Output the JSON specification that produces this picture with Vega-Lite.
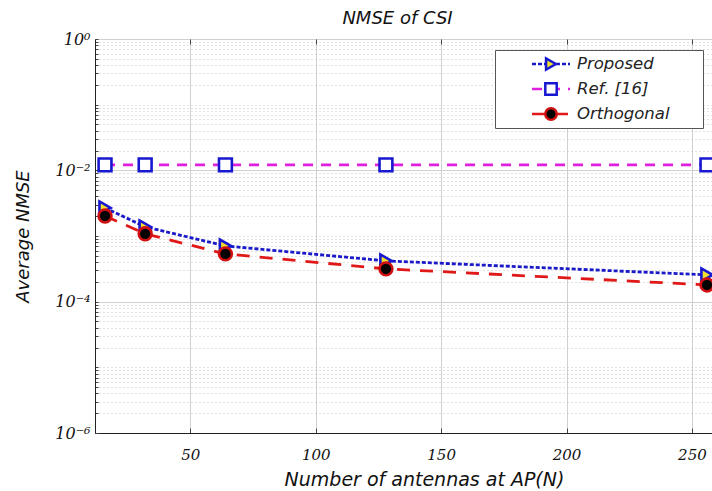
{
  "$schema": "https://vega.github.io/schema/vega-lite/v6.json",
  "width": 617,
  "height": 394,
  "autosize": {"type": "none"},
  "padding": {"left": 95, "top": 39, "right": 0, "bottom": 58},
  "background": "white",
  "title": {"text": "NMSE of CSI", "font": "DejaVu Sans", "fontStyle": "italic", "fontWeight": "normal", "fontSize": 18, "color": "#111", "offset": 3, "dx": -6},
  "config": {
    "view": {"stroke": "#444", "strokeWidth": 1},
    "axis": {
      "labelFont": "DejaVu Serif", "labelFontStyle": "italic", "labelFontSize": 15, "labelColor": "#111",
      "titleFont": "DejaVu Sans", "titleFontStyle": "italic", "titleFontWeight": "normal", "titleFontSize": 18, "titleColor": "#111",
      "domainColor": "#222", "tickColor": "#444"
    }
  },
  "data": {"values": [
    {"N": 16, "value": 0.00268, "series": "Proposed"},
    {"N": 32, "value": 0.00138, "series": "Proposed"},
    {"N": 64, "value": 0.000706, "series": "Proposed"},
    {"N": 128, "value": 0.000418, "series": "Proposed"},
    {"N": 256, "value": 0.000256, "series": "Proposed"},
    {"N": 16, "value": 0.0121, "series": "Ref. [16]"},
    {"N": 32, "value": 0.0121, "series": "Ref. [16]"},
    {"N": 64, "value": 0.0121, "series": "Ref. [16]"},
    {"N": 128, "value": 0.0121, "series": "Ref. [16]"},
    {"N": 256, "value": 0.0121, "series": "Ref. [16]"},
    {"N": 16, "value": 0.00202, "series": "Orthogonal"},
    {"N": 32, "value": 0.00108, "series": "Orthogonal"},
    {"N": 64, "value": 0.000534, "series": "Orthogonal"},
    {"N": 128, "value": 0.000316, "series": "Orthogonal"},
    {"N": 256, "value": 0.00018, "series": "Orthogonal"}
  ]},
  "layer": [
    {
      "mark": {"type": "line", "strokeWidth": 2.8},
      "encoding": {
        "x": {"field": "N", "type": "quantitative",
          "scale": {"domain": [12, 258], "nice": false, "zero": false},
          "axis": {"orient": "bottom", "values": [50, 100, 150, 200, 250], "title": "Number of antennas at AP(N)",
            "titleFontSize": 19, "titleX": 329,
            "grid": true, "gridColor": "#d0d0d0", "gridWidth": 1, "tickSize": -5, "labelPadding": 19, "titlePadding": 8}},
        "y": {"field": "value", "type": "quantitative",
          "scale": {"type": "log", "domain": [0.000001, 1], "nice": false},
          "axis": {"orient": "left", "title": "Average NMSE",
            "values": [1e-6, 2e-6, 3e-6, 4e-6, 5e-6, 6e-6, 7e-6, 8e-6, 9e-6,
                       1e-5, 2e-5, 3e-5, 4e-5, 5e-5, 6e-5, 7e-5, 8e-5, 9e-5,
                       1e-4, 2e-4, 3e-4, 4e-4, 5e-4, 6e-4, 7e-4, 8e-4, 9e-4,
                       1e-3, 2e-3, 3e-3, 4e-3, 5e-3, 6e-3, 7e-3, 8e-3, 9e-3,
                       1e-2, 2e-2, 3e-2, 4e-2, 5e-2, 6e-2, 7e-2, 8e-2, 9e-2,
                       1e-1, 2e-1, 3e-1, 4e-1, 5e-1, 6e-1, 7e-1, 8e-1, 9e-1, 1],
            "labelExpr": "datum.value === 1 ? '10⁰' : datum.value === 0.01 ? '10⁻²' : datum.value === 0.0001 ? '10⁻⁴' : datum.value === 0.000001 ? '10⁻⁶' : ''",
            "labelFontSize": 16,
            "grid": true, "gridColor": "#c4c4c4", "gridDash": [1, 3], "gridWidth": 1,
            "tickSize": -3, "labelPadding": 8, "titlePadding": 22, "labelOverlap": false}},
        "color": {"field": "series", "type": "nominal",
          "scale": {"domain": ["Proposed", "Ref. [16]", "Orthogonal"], "range": ["#1a1ac8", "#e01ee0", "#e01818"]},
          "legend": {"orient": "none", "legendX": 400, "legendY": 11, "title": "MM", "titleOrient": "right", "titleOpacity": 0,
            "titleFontSize": 10, "titlePadding": 15, "symbolType": "stroke", "symbolSize": 1444,
            "symbolStrokeWidth": 2.5, "symbolOffset": 34, "labelOffset": 5.5, "clipHeight": 25, "padding": 1.5, "rowPadding": 0,
            "fillColor": "white", "strokeColor": "#555", "labelFont": "DejaVu Sans", "labelFontStyle": "italic", "labelFontSize": 16.5,
            "labelColor": "#222"}},
        "strokeDash": {"field": "series", "type": "nominal",
          "scale": {"domain": ["Proposed", "Ref. [16]", "Orthogonal"], "range": [[4, 2], [10, 8], [13, 10]]},
          "legend": {"orient": "none", "legendX": 400, "legendY": 11, "title": "MM", "titleOrient": "right", "titleOpacity": 0,
            "titleFontSize": 10, "titlePadding": 15, "symbolType": "stroke", "symbolSize": 1444,
            "symbolStrokeWidth": 2.5, "symbolOffset": 34, "labelOffset": 5.5, "clipHeight": 25, "padding": 1.5, "rowPadding": 0,
            "fillColor": "white", "strokeColor": "#555", "labelFont": "DejaVu Sans", "labelFontStyle": "italic", "labelFontSize": 16.5,
            "labelColor": "#222"}}
      }
    },
    {
      "mark": {"type": "point", "filled": true, "size": 165, "strokeWidth": 2.6, "opacity": 1},
      "encoding": {
        "x": {"field": "N", "type": "quantitative",
          "axis": {"orient": "top", "values": [50, 100, 150, 200, 250], "labels": false, "tickSize": -5, "grid": false, "domain": false, "title": null}},
        "y": {"field": "value", "type": "quantitative",
          "axis": {"orient": "right", "values": [0.000001, 0.0001, 0.01, 1], "labels": false, "ticks": false, "domain": false,
            "grid": true, "gridColor": "#d0d0d0", "gridWidth": 1, "title": null}},
        "shape": {"field": "series", "type": "nominal",
          "scale": {"domain": ["Proposed", "Ref. [16]", "Orthogonal", "_"], "range": ["triangle-right", "square", "circle", "circle"]},
          "legend": {"orient": "none", "legendX": 447.5, "legendY": 11, "title": null, "values": ["Proposed", "Ref. [16]", "Orthogonal"],
            "symbolSize": 130, "symbolStrokeWidth": 2.5, "clipHeight": 25, "padding": 1.5, "rowPadding": 0, "labelExpr": "''", "labelOffset": 0}},
        "fill": {"field": "series", "type": "nominal",
          "scale": {"domain": ["Proposed", "Ref. [16]", "Orthogonal", "_"], "range": ["#f0e030", "#ffffff", "#000000", "#000000"]},
          "legend": {"orient": "none", "legendX": 447.5, "legendY": 11, "title": null, "values": ["Proposed", "Ref. [16]", "Orthogonal"],
            "symbolSize": 130, "symbolStrokeWidth": 2.5, "clipHeight": 25, "padding": 1.5, "rowPadding": 0, "labelExpr": "''", "labelOffset": 0}},
        "stroke": {"field": "series", "type": "nominal",
          "scale": {"domain": ["Proposed", "Ref. [16]", "Orthogonal", "_"], "range": ["#1818d0", "#1818d0", "#d01010", "#d01010"]},
          "legend": {"orient": "none", "legendX": 447.5, "legendY": 11, "title": null, "values": ["Proposed", "Ref. [16]", "Orthogonal"],
            "symbolSize": 130, "symbolStrokeWidth": 2.5, "clipHeight": 25, "padding": 1.5, "rowPadding": 0, "labelExpr": "''", "labelOffset": 0}}
      }
    }
  ],
  "resolve": {"axis": {"x": "independent", "y": "independent"}}
}
